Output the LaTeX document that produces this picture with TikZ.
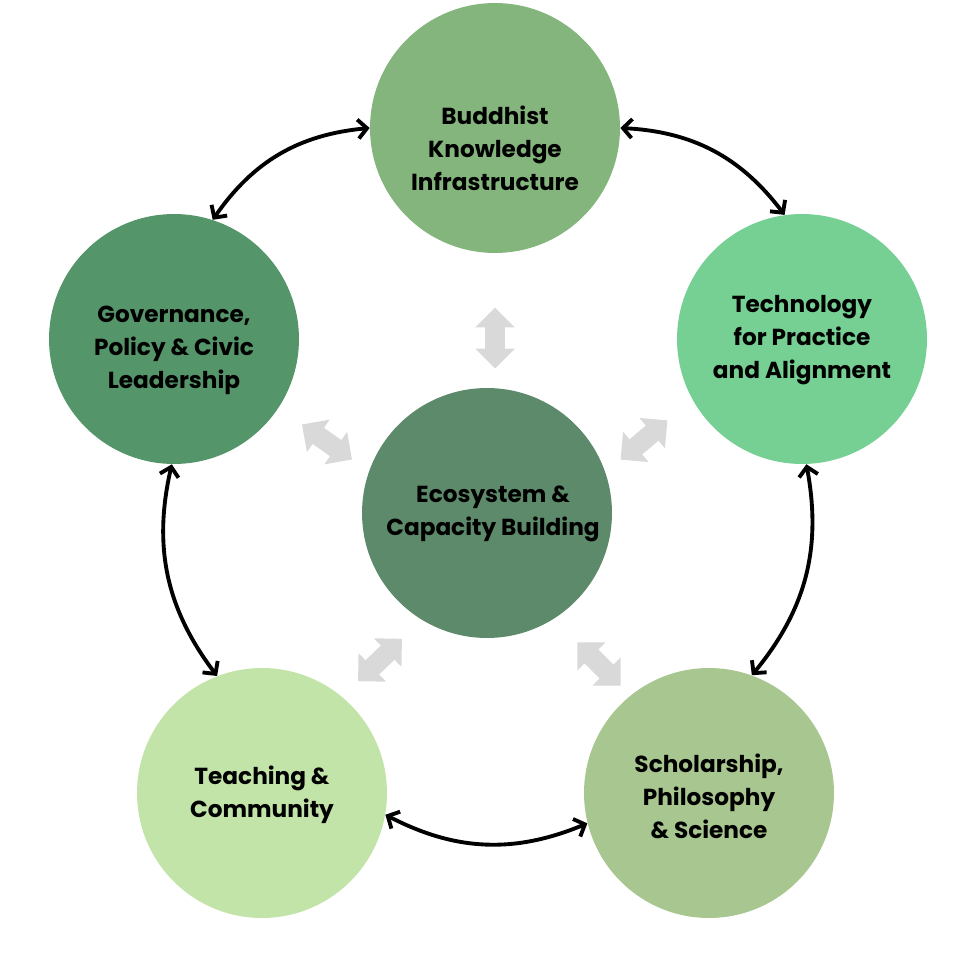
\documentclass[tikz,border=0pt]{standalone}
\usepackage{fontspec}
\setmainfont{Poppins}
\usepackage{tikz}
\usetikzlibrary{arrows.meta,shapes.arrows}
\definecolor{budgreen}{HTML}{84B57D}
\definecolor{techgreen}{HTML}{76D094}
\definecolor{govgreen}{HTML}{55956A}
\definecolor{ecogreen}{HTML}{5D8A6A}
\definecolor{teachgreen}{HTML}{C3E4A9}
\definecolor{schgreen}{HTML}{A8C68F}
\definecolor{lightgrey}{HTML}{D9D9D9}

\begin{document}
\begin{tikzpicture}[x=0.02cm, y=-0.02cm,
  blob/.style={circle, minimum size=5cm, inner sep=0pt},
  txt/.style={align=center, inner sep=0pt, font=\bfseries\fontsize{13.2}{18.8}\selectfont},
  link/.style={<->, >={Straight Barb[length=1.8mm,width=3.8mm]}, line width=2.2pt, bend left=25},
  grey/.style={double arrow, fill=lightgrey, inner sep=0pt, inner ysep=0.19cm,
    minimum height=1.22cm, double arrow head extend=0.2cm}]

\useasboundingbox (0,0) rectangle (977,956);

\node[blob, fill=budgreen]   (bud)   at (495,128) {};
\node[blob, fill=techgreen]  (tech)  at (802,339) {};
\node[blob, fill=govgreen]   (gov)   at (174,339) {};
\node[blob, fill=ecogreen]   (eco)   at (487,513) {};
\node[blob, fill=teachgreen] (teach) at (262,793) {};
\node[blob, fill=schgreen]   (sch)   at (709,793) {};

\node[txt] (budtxt)   at (495,148) {Buddhist\\Knowledge\\Infrastructure};
\node[txt] (techtxt)  at (802,340) {Technology\\for Practice\\and Alignment};
\node[txt] (govtxt)   at (174,350) {Governance,\\Policy \& Civic\\Leadership};
\node[txt] (ecotxt)   at (493,514) {Ecosystem \&\\Capacity Building};
\node[txt] (teachtxt) at (262,795) {Teaching \&\\Community};
\node[txt] (schtxt)   at (709,796) {Scholarship,\\Philosophy\\\& Science};

% outer ring
\draw[link] (gov.72) to (bud.180);
\draw[link] (bud.0) to (tech.98);
\draw[link] (tech.-88) to (sch.70);
\draw[link] (sch.194) to (teach.-10);
\draw[link] (teach.111) to (gov.-91);

% grey arrows round the centre
\node[grey, rotate=90]  (gtop) at (495,338) {};
\node[grey, rotate=-35] (gl)   at (327,442) {};
\node[grey, rotate=40]  (gr)   at (644,440) {};
\node[grey, rotate=44]  (gbl)  at (380,660) {};
\node[grey, rotate=-45] (gbr)  at (599,664) {};
\end{tikzpicture}
\end{document}
